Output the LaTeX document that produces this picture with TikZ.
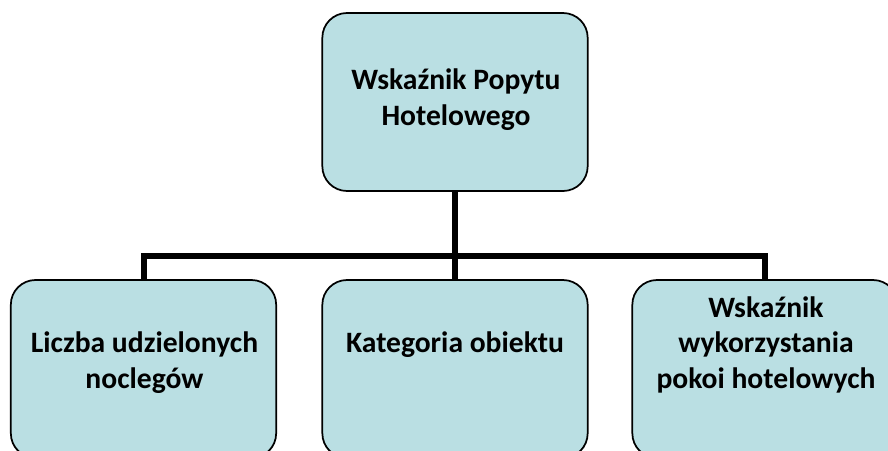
\documentclass[tikz,border=0pt]{standalone}
\usepackage{fontspec}
\setmainfont{Carlito}
\definecolor{boxfill}{RGB}{186,223,227}
\tikzset{
  box/.style={draw=black, line width=1.3pt, fill=boxfill, rounded corners=18.5pt,
    minimum width=199pt, minimum height=133.5pt, inner sep=0pt},
  lbl/.style={anchor=base, align=center, inner sep=0pt,
    font=\fontsize{22.2}{26.4}\selectfont\bfseries},
  conn/.style={line width=4.5pt, black}
}
\begin{document}
\begin{tikzpicture}[x=0.75pt, y=-0.75pt]
\useasboundingbox (0,0) rectangle (888,450);
\clip (0,0) rectangle (888,450);
\node[box] (top) at (455,102) {};
\node[box] (l) at (143.5,369) {};
\node[box] (m) at (455,369) {};
\node[box] (r) at (765,369) {};
\coordinate (j) at (455,256);
\draw[conn] (top.south) -- (m.north);
\draw[conn] (l.north) -- (l.north |- j) -- (r.north |- j) -- (r.north);
\node[lbl] (ttop) at (456,125) {Wskaźnik Popytu\\Hotelowego};
\node[lbl] (tl) at (144.5,388) {Liczba udzielonych\\noclegów};
\node[lbl] (tm) at (455,352) {Kategoria obiektu};
\node[lbl] (tr) at (766,388) {Wskaźnik\\wykorzystania\\pokoi hotelowych};
\end{tikzpicture}
\end{document}
